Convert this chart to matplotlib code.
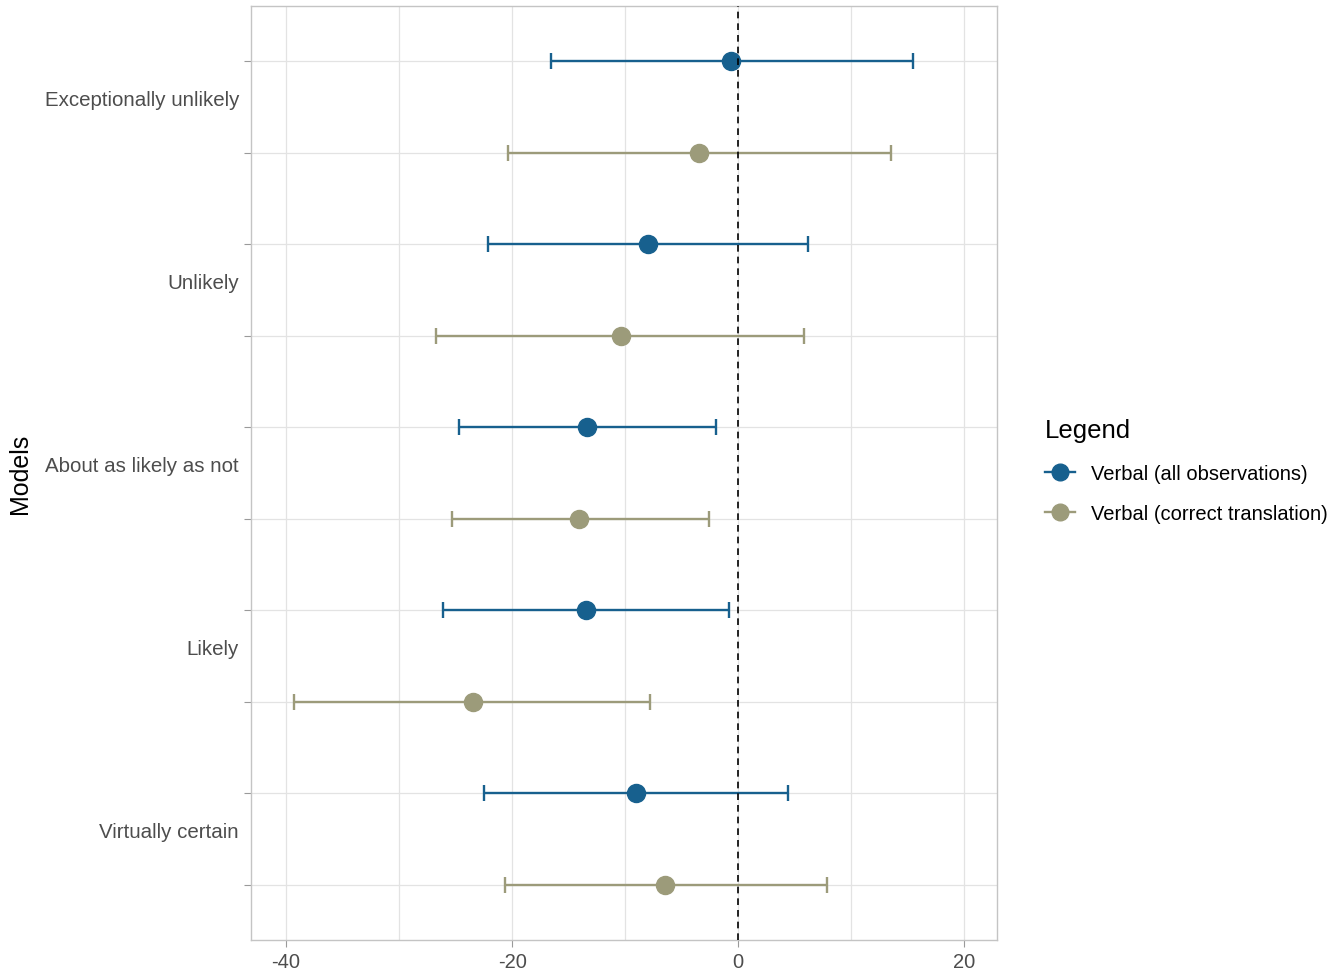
import matplotlib
matplotlib.use("Agg")
import matplotlib.pyplot as plt
from matplotlib.lines import Line2D

plt.rcParams['font.family'] = ['Liberation Sans', 'DejaVu Sans']
plt.rcParams['axes.unicode_minus'] = False

categories = ["Exceptionally unlikely", "Unlikely", "About as likely as not", "Likely", "Virtually certain"]
series_names = ["Verbal (all observations)", "Verbal (correct translation)"]
colors = ["#17608e", "#9c9b7a"]

all_est = [-0.6, -8.0, -13.4, -13.5, -9.0]
all_lo = [-16.6, -22.1, -24.7, -26.1, -22.5]
all_hi = [15.5, 6.2, -2.0, -0.8, 4.4]

cor_est = [-3.5, -10.4, -14.1, -23.5, -6.5]
cor_lo = [-20.4, -26.7, -25.3, -39.3, -20.6]
cor_hi = [13.5, 5.8, -2.6, -7.8, 7.9]

fig = plt.figure(figsize=(13.44, 9.78), dpi=100)
ax = fig.add_axes([251/1344, 1-941/978, (997-251)/1344, (941-7)/978])

for i, (est, lo, hi) in enumerate([(all_est, all_lo, all_hi), (cor_est, cor_lo, cor_hi)]):
    ys = [2*k + i for k in range(len(categories))]
    xerr = [[e - l for e, l in zip(est, lo)], [h - e for e, h in zip(est, hi)]]
    ax.errorbar(est, ys, xerr=xerr, fmt='o', color=colors[i], ms=13, lw=1.7,
                capsize=6, capthick=1.7, zorder=3)

ax.axvline(0, color='black', ls=(0, (4, 3)), lw=1.2, zorder=4)

ax.set_xlim(-43.1, 22.9)
ax.set_ylim(9.6, -0.6)
ax.set_xticks([-40, -20, 0, 20])
ax.set_xticks([-30, -10, 10], minor=True)
ax.set_yticks(range(10))
ax.set_yticklabels([])
ax.grid(True, which='both', color='#e3e3e3', lw=0.9, zorder=0)
ax.set_axisbelow(True)
for s in ax.spines.values():
    s.set_color('#c4c4c4')
    s.set_linewidth(1.0)
ax.tick_params(axis='both', which='major', color='#9a9a9a', length=5, labelsize=14.5, labelcolor='#4d4d4d')
ax.tick_params(axis='x', which='minor', length=0)
for k, c in enumerate(categories):
    ax.text(-0.016, 2*k + 0.42, c, transform=ax.get_yaxis_transform(), ha='right', va='center',
            fontsize=14.8, color='#4d4d4d')
ax.set_ylabel("Models", fontsize=18, labelpad=10)
ax.yaxis.set_label_coords(-0.293, 0.5)

handles = [Line2D([0], [0], color=c, marker='o', ms=12, lw=1.7) for c in colors]
leg = fig.legend(handles, series_names, title="Legend", loc='upper left',
                 bbox_to_anchor=(1027/1344, 1-401/978), frameon=False, fontsize=14.5,
                 title_fontsize=18.5, handlelength=1.5, handletextpad=0.8,
                 labelspacing=1.05, alignment='left')
leg._legend_box.sep = 16

fig.savefig("out.png", dpi=100)
